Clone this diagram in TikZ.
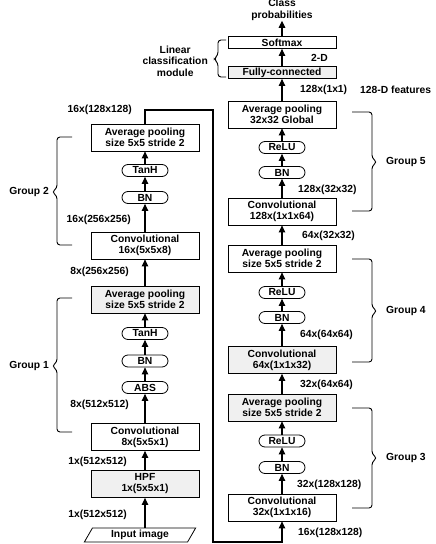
\documentclass[tikz,border=0pt]{standalone}
\usepackage{fontspec}
\setmainfont{Liberation Sans}
\usetikzlibrary{shapes.geometric, arrows.meta, positioning}

\begin{document}
\begin{tikzpicture}[x=1pt, y=-1pt,
  box/.style={rectangle, draw=black, line width=0.8pt, fill=white,
              minimum width=108pt, minimum height=27pt, inner sep=1pt,
              align=center, font=\fontsize{10.3}{11}\selectfont\bfseries},
  gbox/.style={box, fill=gray!12},
  flat/.style={box, minimum height=12pt},
  gflat/.style={flat, fill=gray!12},
  oval/.style={rectangle, rounded corners=6pt, draw=black, line width=0.8pt,
               fill=white, minimum width=46pt, minimum height=12pt, inner sep=0pt,
               font=\fontsize{10.3}{11}\selectfont\bfseries},
  inbox/.style={trapezium, trapezium left angle=63, trapezium right angle=117,
                trapezium stretches=true, draw=black, line width=0.8pt,
                minimum width=112pt, minimum height=14pt, inner sep=0pt,
                font=\fontsize{10.3}{11}\selectfont\bfseries},
  arrow/.style={-{Triangle[width=6.5pt,length=7pt]}, line width=1.1pt},
  dim/.style={font=\fontsize{10.3}{11.5}\selectfont\bfseries, inner sep=0pt, align=center},
  grp/.style={line width=0.9pt, rounded corners=3pt}
]
\useasboundingbox (0,0) rectangle (436,544);

%% Left column
\node[box]   (avg2)  at (145,137.5) {Average pooling\\size 5x5 stride 2};
\node[oval]  (tanh2) at (145,170.5) {TanH};
\node[oval]  (bn2)   at (145,197.5) {BN};
\node[box]   (conv2) at (145,245.5) {Convolutional\\16x(5x5x8)};
\node[gbox]  (avg1)  at (145,299.5) {Average pooling\\size 5x5 stride 2};
\node[oval]  (tanh1) at (145,333.5) {TanH};
\node[oval]  (bn1)   at (145,361)   {BN};
\node[oval]  (abs)   at (145,387.5) {ABS};
\node[box]   (conv1) at (145,437)   {Convolutional\\8x(5x5x1)};
\node[gbox]  (hpf)   at (145,484)   {HPF\\1x(5x5x1)};
\node[inbox] (img)   at (140,535)   {Input image};

%% Right column
\node[dim]   (cls)   at (282,10)    {Class\\probabilities};
\node[flat]  (soft)  at (282,42.5)  {Softmax};
\node[gflat] (fc)    at (282,72.5)  {Fully-connected};
\node[box]   (avg5)  at (282,114.5) {Average pooling\\32x32 Global};
\node[oval]  (relu5) at (282,147.5) {ReLU};
\node[oval]  (bn5)   at (282,172.5) {BN};
\node[box]   (conv5) at (282,211.5) {Convolutional\\128x(1x1x64)};
\node[box]   (avg4)  at (282,258.5) {Average pooling\\size 5x5 stride 2};
\node[oval]  (relu4) at (282,292.5) {ReLU};
\node[oval]  (bn4)   at (282,317.5) {BN};
\node[gbox]  (conv4) at (282,360)   {Convolutional\\64x(1x1x32)};
\node[gbox]  (avg3)  at (282,407.5) {Average pooling\\size 5x5 stride 2};
\node[oval]  (relu3) at (282,441)   {ReLU};
\node[oval]  (bn3)   at (282,467.5) {BN};
\node[box]   (conv3) at (282,507.5) {Convolutional\\32x(1x1x16)};

%% Arrows, left column
\draw[arrow] (img.north -| hpf.south) -- (hpf);
\draw[arrow] (hpf) -- (conv1);
\draw[arrow] (conv1) -- (abs);
\draw[arrow] (abs) -- (bn1);
\draw[arrow] (bn1) -- (tanh1);
\draw[arrow] (tanh1) -- (avg1);
\draw[arrow] (avg1) -- (conv2);
\draw[arrow] (conv2) -- (bn2);
\draw[arrow] (bn2) -- (tanh2);
\draw[arrow] (tanh2) -- (avg2);

%% Link between the columns
\coordinate (ltop) at (213,110);
\coordinate (lbot) at (213,542);
\draw[arrow] (avg2.north) |- (ltop) -- (lbot) -| (conv3.south);

%% Arrows, right column
\draw[arrow] (conv3) -- (bn3);
\draw[arrow] (bn3) -- (relu3);
\draw[arrow] (relu3) -- (avg3);
\draw[arrow] (avg3) -- (conv4);
\draw[arrow] (conv4) -- (bn4);
\draw[arrow] (bn4) -- (relu4);
\draw[arrow] (relu4) -- (avg4);
\draw[arrow] (avg4) -- (conv5);
\draw[arrow] (conv5) -- (bn5);
\draw[arrow] (bn5) -- (relu5);
\draw[arrow] (relu5) -- (avg5);
\draw[arrow] (avg5) -- (fc);
\draw[arrow] (fc) -- (soft);
\draw[arrow] (soft) -- (cls);

%% Feature map sizes
\node[dim, anchor=east] (s1) at (132,110) {16x(128x128)};
\node[dim, anchor=east] (s2) at (131,220) {16x(256x256)};
\node[dim, anchor=east] (s3) at (129,272) {8x(256x256)};
\node[dim, anchor=east] (s4) at (129,405) {8x(512x512)};
\node[dim, anchor=east] (s5) at (127,462) {1x(512x512)};
\node[dim, anchor=east] (s6) at (127,515) {1x(512x512)};
\node[dim, anchor=west] (s7)  at (311,58)  {2-D};
\node[dim, anchor=west] (s8)  at (300,90)  {128x(1x1)};
\node[dim, anchor=west] (s9)  at (360,90)  {128-D features};
\node[dim, anchor=west] (s10) at (298,190) {128x(32x32)};
\node[dim, anchor=west] (s11) at (302,236) {64x(32x32)};
\node[dim, anchor=west] (s12) at (300,335) {64x(64x64)};
\node[dim, anchor=west] (s13) at (300,385) {32x(64x64)};
\node[dim, anchor=west] (s14) at (297,485) {32x(128x128)};
\node[dim, anchor=west] (s15) at (298,533) {16x(128x128)};

%% Groups
\draw[grp] (72,137) -- (57,137) -- (57,188) -- (52,192) -- (57,196) -- (57,245) -- (72,245);
\draw[grp] (72,298) -- (57,298) -- (57,362) -- (52,366) -- (57,370) -- (57,432) -- (72,432);
\draw[grp] (226,40) -- (218,40) -- (218,55) -- (214,59) -- (218,63) -- (218,77) -- (226,77);
\draw[grp] (352,112) -- (372,112) -- (372,158) -- (377,162) -- (372,166) -- (372,211) -- (352,211);
\draw[grp] (352,259) -- (372,259) -- (372,307) -- (377,311) -- (372,315) -- (372,362) -- (352,362);
\draw[grp] (352,408) -- (372,408) -- (372,454) -- (377,458) -- (372,462) -- (372,508) -- (352,508);
\node[dim, anchor=east] (g2)  at (49,192)  {Group 2};
\node[dim, anchor=east] (g1)  at (49,366)  {Group 1};
\node[dim, anchor=east] (lin) at (208,61)  {Linear\\classification\\module};
\node[dim, anchor=west] (g5)  at (386,162) {Group 5};
\node[dim, anchor=west] (g4)  at (386,311) {Group 4};
\node[dim, anchor=west] (g3)  at (386,458) {Group 3};
\end{tikzpicture}
\end{document}
